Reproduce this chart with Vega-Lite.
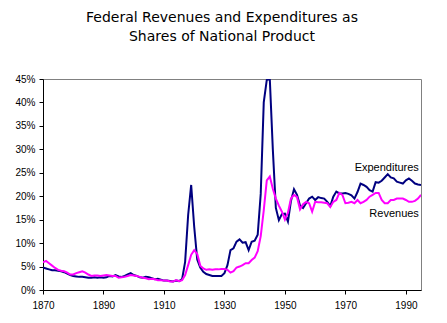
{
  "$schema": "https://vega.github.io/schema/vega-lite/v6.json",
  "autosize": "none",
  "width": 378,
  "height": 211,
  "padding": {"left": 43, "top": 79, "right": 26, "bottom": 33},
  "background": "white",
  "title": {
    "text": ["Federal Revenues and Expenditures as", "Shares of National Product"],
    "font": "DejaVu Sans",
    "fontSize": 14,
    "fontWeight": "normal",
    "color": "black",
    "anchor": "middle",
    "dx": -10,
    "offset": 30,
    "lineHeight": 19
  },
  "config": {
    "view": {"stroke": "#808080", "strokeWidth": 1},
    "axis": {
      "grid": false,
      "domainColor": "black",
      "tickColor": "black",
      "labelColor": "black",
      "labelFont": "Liberation Sans",
      "labelFontSize": 10,
      "tickSize": 4,
      "labelOverlap": false,
      "title": null
    }
  },
  "datasets": {
    "series": [
      {"year": 1870, "Expenditures": 4.8, "Revenues": 5.9},
      {"year": 1871, "Expenditures": 4.6, "Revenues": 6.2},
      {"year": 1872, "Expenditures": 4.4, "Revenues": 5.7},
      {"year": 1873, "Expenditures": 4.2, "Revenues": 5.2},
      {"year": 1874, "Expenditures": 4.2, "Revenues": 4.7},
      {"year": 1875, "Expenditures": 4.1, "Revenues": 4.3},
      {"year": 1876, "Expenditures": 4.0, "Revenues": 4.1},
      {"year": 1877, "Expenditures": 3.8, "Revenues": 4.0},
      {"year": 1878, "Expenditures": 3.5, "Revenues": 3.7},
      {"year": 1879, "Expenditures": 3.2, "Revenues": 3.3},
      {"year": 1880, "Expenditures": 3.0, "Revenues": 3.3},
      {"year": 1881, "Expenditures": 2.9, "Revenues": 3.6},
      {"year": 1882, "Expenditures": 2.8, "Revenues": 3.8},
      {"year": 1883, "Expenditures": 2.8, "Revenues": 4.0},
      {"year": 1884, "Expenditures": 2.7, "Revenues": 3.7},
      {"year": 1885, "Expenditures": 2.6, "Revenues": 3.3},
      {"year": 1886, "Expenditures": 2.6, "Revenues": 3.0},
      {"year": 1887, "Expenditures": 2.7, "Revenues": 3.1},
      {"year": 1888, "Expenditures": 2.6, "Revenues": 3.1},
      {"year": 1889, "Expenditures": 2.7, "Revenues": 3.0},
      {"year": 1890, "Expenditures": 2.6, "Revenues": 3.1},
      {"year": 1891, "Expenditures": 2.7, "Revenues": 3.2},
      {"year": 1892, "Expenditures": 3.0, "Revenues": 3.1},
      {"year": 1893, "Expenditures": 2.9, "Revenues": 3.0},
      {"year": 1894, "Expenditures": 3.2, "Revenues": 3.0},
      {"year": 1895, "Expenditures": 2.9, "Revenues": 2.6},
      {"year": 1896, "Expenditures": 2.8, "Revenues": 2.7},
      {"year": 1897, "Expenditures": 3.0, "Revenues": 2.8},
      {"year": 1898, "Expenditures": 3.3, "Revenues": 3.0},
      {"year": 1899, "Expenditures": 3.6, "Revenues": 3.2},
      {"year": 1900, "Expenditures": 3.2, "Revenues": 3.1},
      {"year": 1901, "Expenditures": 3.0, "Revenues": 3.0},
      {"year": 1902, "Expenditures": 2.7, "Revenues": 2.8},
      {"year": 1903, "Expenditures": 2.6, "Revenues": 2.6},
      {"year": 1904, "Expenditures": 2.8, "Revenues": 2.5},
      {"year": 1905, "Expenditures": 2.7, "Revenues": 2.3},
      {"year": 1906, "Expenditures": 2.5, "Revenues": 2.4},
      {"year": 1907, "Expenditures": 2.3, "Revenues": 2.3},
      {"year": 1908, "Expenditures": 2.4, "Revenues": 2.1},
      {"year": 1909, "Expenditures": 2.2, "Revenues": 2.1},
      {"year": 1910, "Expenditures": 2.0, "Revenues": 2.0},
      {"year": 1911, "Expenditures": 2.0, "Revenues": 2.0},
      {"year": 1912, "Expenditures": 1.9, "Revenues": 1.8},
      {"year": 1913, "Expenditures": 1.8, "Revenues": 1.8},
      {"year": 1914, "Expenditures": 2.0, "Revenues": 2.1},
      {"year": 1915, "Expenditures": 1.9, "Revenues": 1.9},
      {"year": 1916, "Expenditures": 2.3, "Revenues": 2.1},
      {"year": 1917, "Expenditures": 6.0, "Revenues": 3.2},
      {"year": 1918, "Expenditures": 16.0, "Revenues": 5.3},
      {"year": 1919, "Expenditures": 22.4, "Revenues": 7.5},
      {"year": 1920, "Expenditures": 13.5, "Revenues": 8.5},
      {"year": 1921, "Expenditures": 6.5, "Revenues": 7.7},
      {"year": 1922, "Expenditures": 4.8, "Revenues": 5.2},
      {"year": 1923, "Expenditures": 3.9, "Revenues": 4.6},
      {"year": 1924, "Expenditures": 3.4, "Revenues": 4.3},
      {"year": 1925, "Expenditures": 3.2, "Revenues": 4.4},
      {"year": 1926, "Expenditures": 3.0, "Revenues": 4.3},
      {"year": 1927, "Expenditures": 3.0, "Revenues": 4.4},
      {"year": 1928, "Expenditures": 3.0, "Revenues": 4.4},
      {"year": 1929, "Expenditures": 3.0, "Revenues": 4.5},
      {"year": 1930, "Expenditures": 3.6, "Revenues": 4.5},
      {"year": 1931, "Expenditures": 5.3, "Revenues": 4.3},
      {"year": 1932, "Expenditures": 8.5, "Revenues": 3.7},
      {"year": 1933, "Expenditures": 8.9, "Revenues": 4.0},
      {"year": 1934, "Expenditures": 10.3, "Revenues": 4.8},
      {"year": 1935, "Expenditures": 10.8, "Revenues": 5.0},
      {"year": 1936, "Expenditures": 10.1, "Revenues": 5.3},
      {"year": 1937, "Expenditures": 10.2, "Revenues": 5.7},
      {"year": 1938, "Expenditures": 8.5, "Revenues": 5.7},
      {"year": 1939, "Expenditures": 10.3, "Revenues": 6.4},
      {"year": 1940, "Expenditures": 10.5, "Revenues": 6.9},
      {"year": 1941, "Expenditures": 11.8, "Revenues": 8.3},
      {"year": 1942, "Expenditures": 20.5, "Revenues": 11.5},
      {"year": 1943, "Expenditures": 40.0, "Revenues": 17.0},
      {"year": 1944, "Expenditures": 44.8, "Revenues": 23.4},
      {"year": 1945, "Expenditures": 45.0, "Revenues": 24.2},
      {"year": 1946, "Expenditures": 30.0, "Revenues": 21.6},
      {"year": 1947, "Expenditures": 17.5, "Revenues": 19.5},
      {"year": 1948, "Expenditures": 14.9, "Revenues": 18.0},
      {"year": 1949, "Expenditures": 16.2, "Revenues": 16.7},
      {"year": 1950, "Expenditures": 16.3, "Revenues": 15.0},
      {"year": 1951, "Expenditures": 14.6, "Revenues": 16.5},
      {"year": 1952, "Expenditures": 19.0, "Revenues": 19.5},
      {"year": 1953, "Expenditures": 21.5, "Revenues": 20.3},
      {"year": 1954, "Expenditures": 20.3, "Revenues": 19.8},
      {"year": 1955, "Expenditures": 18.0, "Revenues": 17.2},
      {"year": 1956, "Expenditures": 17.5, "Revenues": 18.3},
      {"year": 1957, "Expenditures": 18.5, "Revenues": 18.8},
      {"year": 1958, "Expenditures": 19.5, "Revenues": 18.5},
      {"year": 1959, "Expenditures": 19.9, "Revenues": 16.7},
      {"year": 1960, "Expenditures": 19.2, "Revenues": 18.8},
      {"year": 1961, "Expenditures": 19.8, "Revenues": 18.7},
      {"year": 1962, "Expenditures": 19.6, "Revenues": 18.7},
      {"year": 1963, "Expenditures": 19.5, "Revenues": 18.6},
      {"year": 1964, "Expenditures": 18.8, "Revenues": 18.5},
      {"year": 1965, "Expenditures": 17.9, "Revenues": 17.7},
      {"year": 1966, "Expenditures": 19.9, "Revenues": 18.8},
      {"year": 1967, "Expenditures": 21.0, "Revenues": 19.2},
      {"year": 1968, "Expenditures": 20.6, "Revenues": 20.7},
      {"year": 1969, "Expenditures": 20.6, "Revenues": 20.3},
      {"year": 1970, "Expenditures": 20.7, "Revenues": 18.5},
      {"year": 1971, "Expenditures": 20.5, "Revenues": 18.6},
      {"year": 1972, "Expenditures": 20.2, "Revenues": 18.8},
      {"year": 1973, "Expenditures": 19.5, "Revenues": 18.5},
      {"year": 1974, "Expenditures": 20.9, "Revenues": 19.2},
      {"year": 1975, "Expenditures": 22.7, "Revenues": 18.5},
      {"year": 1976, "Expenditures": 22.4, "Revenues": 18.8},
      {"year": 1977, "Expenditures": 22.0, "Revenues": 19.2},
      {"year": 1978, "Expenditures": 21.3, "Revenues": 19.9},
      {"year": 1979, "Expenditures": 21.0, "Revenues": 20.3},
      {"year": 1980, "Expenditures": 23.0, "Revenues": 20.7},
      {"year": 1981, "Expenditures": 22.9, "Revenues": 20.7},
      {"year": 1982, "Expenditures": 23.3, "Revenues": 19.2},
      {"year": 1983, "Expenditures": 24.0, "Revenues": 18.5},
      {"year": 1984, "Expenditures": 24.7, "Revenues": 18.5},
      {"year": 1985, "Expenditures": 24.0, "Revenues": 19.2},
      {"year": 1986, "Expenditures": 23.8, "Revenues": 19.2},
      {"year": 1987, "Expenditures": 23.1, "Revenues": 19.5},
      {"year": 1988, "Expenditures": 22.9, "Revenues": 19.5},
      {"year": 1989, "Expenditures": 22.7, "Revenues": 19.5},
      {"year": 1990, "Expenditures": 23.4, "Revenues": 19.2},
      {"year": 1991, "Expenditures": 23.8, "Revenues": 18.8},
      {"year": 1992, "Expenditures": 23.3, "Revenues": 18.8},
      {"year": 1993, "Expenditures": 22.7, "Revenues": 19.0},
      {"year": 1994, "Expenditures": 22.5, "Revenues": 19.5},
      {"year": 1995, "Expenditures": 22.4, "Revenues": 20.3}
    ],
    "labels": [
      {"year": 1994.3, "value": 25.4, "label": "Expenditures"},
      {"year": 1994.3, "value": 15.6, "label": "Revenues"}
    ]
  },
  "layer": [
    {
      "data": {"name": "series"},
      "mark": {"type": "line", "color": "#000080", "strokeWidth": 2, "clip": true},
      "encoding": {
        "x": {
          "field": "year",
          "type": "quantitative",
          "scale": {"domain": [1870, 1995], "nice": false, "zero": false},
          "axis": {
            "values": [1870,1875,1880,1885,1890,1895,1900,1905,1910,1915,1920,1925,1930,1935,1940,1945,1950,1955,1960,1965,1970,1975,1980,1985,1990,1995],
            "format": "d",
            "labelExpr": "datum.value % 20 == 10 ? datum.label : ''",
            "labelPadding": 6,
            "labelFlush": false
          }
        },
        "y": {
          "field": "Expenditures",
          "type": "quantitative",
          "scale": {"domain": [0, 45], "nice": false},
          "axis": {
            "values": [0,5,10,15,20,25,30,35,40,45],
            "labelExpr": "datum.value + '%'",
            "labelPadding": 4,
            "labelOverlap": false,
            "labelFlush": false
          }
        }
      }
    },
    {
      "data": {"name": "series"},
      "mark": {"type": "line", "color": "#FF00FF", "strokeWidth": 2, "clip": true},
      "encoding": {
        "x": {"field": "year", "type": "quantitative"},
        "y": {
          "field": "Revenues",
          "type": "quantitative",
          "axis": {
            "values": [0,5,10,15,20,25,30,35,40,45],
            "labelExpr": "datum.value + '%'",
            "labelPadding": 4,
            "labelOverlap": false,
            "labelFlush": false
          }
        }
      }
    },
    {
      "data": {"name": "labels"},
      "mark": {"type": "text", "align": "right", "baseline": "alphabetic", "font": "Liberation Sans", "fontSize": 11, "color": "black"},
      "encoding": {
        "x": {"field": "year", "type": "quantitative"},
        "y": {
          "field": "value",
          "type": "quantitative",
          "axis": {
            "values": [0,5,10,15,20,25,30,35,40,45],
            "labelExpr": "datum.value + '%'",
            "labelPadding": 4,
            "labelOverlap": false,
            "labelFlush": false
          }
        },
        "text": {"field": "label"}
      }
    }
  ]
}
